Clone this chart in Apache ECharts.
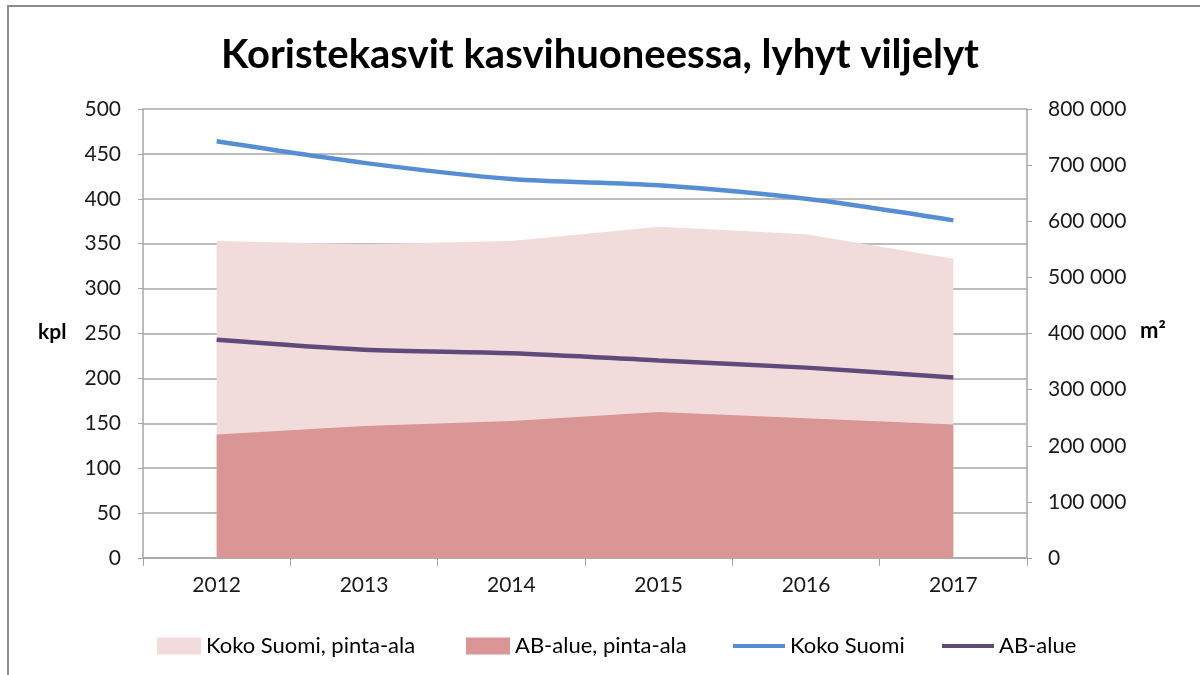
<!DOCTYPE html>
<html>
<head>
<meta charset="utf-8">
<script src="https://cdn.jsdelivr.net/npm/echarts@6/dist/echarts.min.js"></script>
<style>
  html, body { margin: 0; padding: 0; background: #fff; }
  #chart { width: 1200px; height: 675px; }
</style>
</head>
<body>
<div id="chart"></div>
<script>
// vuodet
const years = ['2012', '2013', '2014', '2015', '2016', '2017']
// pinta-ala, m2 (oikea akseli)
const kokoSuomiArea = [565000, 559000, 565000, 590000, 577000, 533000]
const abAlueArea = [220000, 235000, 244000, 260000, 249000, 238000]
// yritysten lukumäärä, kpl (vasen akseli)
const kokoSuomiKpl = [464, 440, 422, 415, 400, 376]
const abAlueKpl = [243, 232, 228, 220, 212, 201]

const FONT = 'Lato, "Noto Sans", sans-serif'
const AXIS_GRAY = '#a6a6a6'

const spaceThousands = v => String(v).replace(/\B(?=(\d{3})+(?!\d))/g, ' ')

const chart = echarts.init(document.getElementById('chart'))

const legendItem = (name, left, width, height) => ({
  left: left,
  top: 630,
  icon: 'rect',
  itemWidth: width,
  itemHeight: height,
  itemGap: 0,
  textStyle: { fontFamily: FONT, fontSize: 22, color: '#000', padding: [0, 0, 0, 0] },
  data: [name]
})

chart.setOption({
  backgroundColor: '#fff',
  animation: false,
  textStyle: { fontFamily: FONT },
  title: {
    text: 'Koristekasvit kasvihuoneessa, lyhyt viljelyt',
    left: 'center',
    top: 30,
    textStyle: { fontFamily: FONT, fontSize: 40, fontWeight: 'bold', color: '#000' }
  },
  legend: [
    legendItem('Koko Suomi, pinta-ala', 152, 44, 17),
    legendItem('AB-alue, pinta-ala', 461, 44, 17),
    legendItem('Koko Suomi', 728, 52, 4),
    legendItem('AB-alue', 937, 52, 4)
  ],
  grid: { left: 143, right: 173, top: 109, bottom: 117 },
  xAxis: {
    type: 'category',
    data: years,
    boundaryGap: true,
    axisLine: { lineStyle: { color: AXIS_GRAY, width: 1.5 } },
    axisTick: { show: true, length: 8, lineStyle: { color: AXIS_GRAY } },
    axisLabel: { color: '#1a1a1a', fontSize: 21, margin: 17 }
  },
  yAxis: [
    {
      type: 'value',
      min: 0,
      max: 500,
      interval: 50,
      position: 'left',
      axisLine: { show: true, lineStyle: { color: AXIS_GRAY, width: 1.5 } },
      axisTick: { show: true, length: 5, lineStyle: { color: AXIS_GRAY } },
      axisLabel: { color: '#1a1a1a', fontSize: 21, margin: 22 },
      splitLine: { show: true, lineStyle: { color: AXIS_GRAY, width: 1.5 } }
    },
    {
      type: 'value',
      min: 0,
      max: 800000,
      interval: 100000,
      position: 'right',
      axisLine: { show: true, lineStyle: { color: AXIS_GRAY, width: 1.5 } },
      axisTick: { show: true, length: 5, lineStyle: { color: AXIS_GRAY } },
      axisLabel: { color: '#1a1a1a', fontSize: 21, margin: 21, formatter: spaceThousands },
      splitLine: { show: false }
    }
  ],
  graphic: [
    { type: 'text', left: 38, top: 322, style: { text: 'kpl', fontFamily: FONT, fontSize: 21, fontWeight: 'bold', fill: '#000' } },
    { type: 'text', left: 1140, top: 320, style: { text: 'm²', fontFamily: FONT, fontSize: 22, fontWeight: 'bold', fill: '#000' } },
    { type: 'line', shape: { x1: 7, y1: 6, x2: 1200, y2: 6 }, style: { stroke: '#8c8c8c', lineWidth: 2 } },
    { type: 'line', shape: { x1: 8, y1: 5, x2: 8, y2: 675 }, style: { stroke: '#8c8c8c', lineWidth: 2 } }
  ],
  series: [
    {
      name: 'Koko Suomi, pinta-ala',
      type: 'line',
      yAxisIndex: 1,
      data: kokoSuomiArea,
      symbol: 'none',
      lineStyle: { width: 0 },
      itemStyle: { color: '#f2dcdb' },
      areaStyle: { color: '#f2dcdb', opacity: 1 },
      z: 1
    },
    {
      name: 'AB-alue, pinta-ala',
      type: 'line',
      yAxisIndex: 1,
      data: abAlueArea,
      symbol: 'none',
      lineStyle: { width: 0 },
      itemStyle: { color: '#d99694' },
      areaStyle: { color: '#d99694', opacity: 1 },
      z: 2
    },
    {
      name: 'Koko Suomi',
      type: 'line',
      yAxisIndex: 0,
      data: kokoSuomiKpl,
      smooth: 0.3,
      symbol: 'none',
      lineStyle: { color: '#558ed5', width: 4.5 },
      itemStyle: { color: '#558ed5' },
      z: 3
    },
    {
      name: 'AB-alue',
      type: 'line',
      yAxisIndex: 0,
      data: abAlueKpl,
      smooth: 0.3,
      symbol: 'none',
      lineStyle: { color: '#604a7b', width: 4.5 },
      itemStyle: { color: '#604a7b' },
      z: 3
    }
  ]
})

window.addEventListener('resize', () => chart.resize())
</script>
</body>
</html>
